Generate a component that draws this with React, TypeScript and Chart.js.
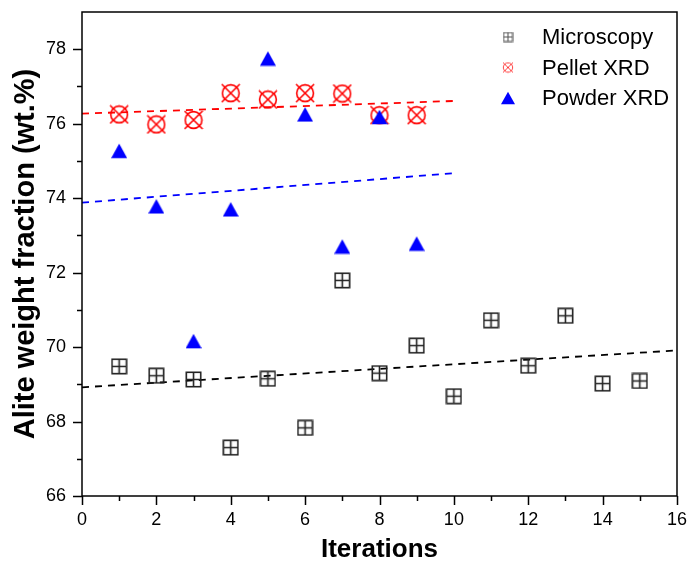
import React, { useEffect, useRef } from "react";
import { Chart, registerables } from "chart.js";
Chart.register(...registerables);

const microscopyX = [1, 2, 3, 4, 5, 6, 7, 8, 9, 10, 11, 12, 13, 14, 15];
const microscopy = [69.48, 69.23, 69.13, 67.3, 69.15, 67.83, 71.79, 69.3, 70.04, 68.68, 70.72, 69.5, 70.84, 69.02, 69.09];
const pelletX = [1, 2, 3, 4, 5, 6, 7, 8, 9];
const pelletXRD = [76.25, 75.98, 76.1, 76.82, 76.65, 76.82, 76.81, 76.23, 76.23];
const powderX = [1, 2, 3, 4, 5, 6, 7, 8, 9];
const powderXRD = [75.27, 73.78, 70.16, 73.7, 77.75, 76.25, 72.7, 76.18, 72.78];
const microscopyFitX = [0, 16];
const microscopyFit = [68.92, 69.91];
const pelletFitX = [0, 10];
const pelletFit = [76.27, 76.61];
const powderFitX = [0, 10];
const powderFit = [73.88, 74.67];
const xTickValues = [0, 2, 4, 6, 8, 10, 12, 14, 16];
const yTickValues = [66, 68, 70, 72, 74, 76, 78];
const legendLabels = ["Microscopy", "Pellet XRD", "Powder XRD"];

const FONT = "'Liberation Sans', Arial, sans-serif";

function makeCanvas(size: number, draw: (c: CanvasRenderingContext2D, s: number) => void) {
  const cv = document.createElement("canvas");
  cv.width = size;
  cv.height = size;
  const c = cv.getContext("2d")!;
  draw(c, size);
  return cv;
}

function squarePlus(size: number, lw: number, color: string) {
  return makeCanvas(size, (c, s) => {
    c.strokeStyle = color;
    c.lineWidth = lw;
    const m = lw / 2 + 0.5;
    c.strokeRect(m, m, s - 2 * m, s - 2 * m);
    c.beginPath();
    c.moveTo(s / 2, m);
    c.lineTo(s / 2, s - m);
    c.moveTo(m, s / 2);
    c.lineTo(s - m, s / 2);
    c.stroke();
  });
}

function circleX(size: number, lw: number, color: string) {
  return makeCanvas(size, (c, s) => {
    c.strokeStyle = color;
    c.lineWidth = lw;
    const r = s / 2 - lw / 2 - 0.8;
    c.beginPath();
    c.arc(s / 2, s / 2, r, 0, Math.PI * 2);
    c.stroke();
    const m = 1;
    c.beginPath();
    c.moveTo(m, m);
    c.lineTo(s - m, s - m);
    c.moveTo(s - m, m);
    c.lineTo(m, s - m);
    c.stroke();
  });
}

function triangle(size: number) {
  return makeCanvas(size, (c, s) => {
    c.fillStyle = "#0000ff";
    const h = s * 0.9;
    const top = (s - h) / 2;
    c.beginPath();
    c.moveTo(s / 2, top);
    c.lineTo(s, top + h);
    c.lineTo(0, top + h);
    c.closePath();
    c.fill();
  });
}

export default function App() {
  const ref = useRef<HTMLCanvasElement>(null);
  useEffect(() => {
    const canvas = ref.current!;
    const sq = squarePlus(17, 1.6, "#222");
    const cx = circleX(20, 1.6, "#ff0000");
    const tri = triangle(16);
    const sqL = squarePlus(11, 1.1, "#555");
    const cxL = circleX(12, 1.0, "#ff4040");
    const triL = triangle(14);

    const framePlugin = {
      id: "frame",
      afterDraw(chart: any) {
        const { ctx, chartArea: a, scales } = chart;
        ctx.save();
        ctx.strokeStyle = "#000";
        ctx.lineWidth = 1.5;
        ctx.strokeRect(a.left, a.top, a.right - a.left, a.bottom - a.top);
        ctx.beginPath();
        for (let v = 0; v <= 16; v++) {
          const px = Math.round(scales.x.getPixelForValue(v)) + 0.5;
          const len = v % 2 === 0 ? 9 : 5;
          ctx.moveTo(px, a.bottom);
          ctx.lineTo(px, a.bottom + len);
        }
        for (let v = 66; v <= 78; v++) {
          const py = Math.round(scales.y.getPixelForValue(v)) + 0.5;
          const len = v % 2 === 0 ? 9 : 5;
          ctx.moveTo(a.left, py);
          ctx.lineTo(a.left - len, py);
        }
        ctx.stroke();
        // legend
        const markers = [sqL, cxL, triL];
        ctx.font = `22px ${FONT}`;
        ctx.fillStyle = "#000";
        ctx.textBaseline = "middle";
        ctx.textAlign = "left";
        legendLabels.forEach((lab, i) => {
          const y = 37 + i * 30.5;
          const m = markers[i];
          ctx.drawImage(m, 508 - m.width / 2, y - m.height / 2);
          ctx.fillText(lab, 542, y + 1);
        });
        ctx.restore();
      },
    };

    const chart = new Chart(canvas, {
      type: "scatter",
      data: {
        datasets: [
          {
            label: "Powder XRD",
            data: powderX.map((x, i) => ({ x, y: powderXRD[i] })),
            pointStyle: tri as any,
            order: 0,
          },
          {
            label: "Pellet XRD",
            data: pelletX.map((x, i) => ({ x, y: pelletXRD[i] })),
            pointStyle: cx as any,
            order: 1,
          },
          {
            label: "Microscopy",
            data: microscopyX.map((x, i) => ({ x, y: microscopy[i] })),
            pointStyle: sq as any,
            order: 2,
          },
          {
            label: "fit-m",
            data: microscopyFitX.map((x, i) => ({ x, y: microscopyFit[i] })),
            showLine: true,
            borderColor: "#000",
            borderWidth: 1.8,
            borderDash: [7, 6],
            pointRadius: 0,
            order: 3,
          },
          {
            label: "fit-p",
            data: pelletFitX.map((x, i) => ({ x, y: pelletFit[i] })),
            showLine: true,
            borderColor: "#ff0000",
            borderWidth: 1.8,
            borderDash: [7, 6],
            pointRadius: 0,
            order: 3,
          },
          {
            label: "fit-w",
            data: powderFitX.map((x, i) => ({ x, y: powderFit[i] })),
            showLine: true,
            borderColor: "#0000ff",
            borderWidth: 1.8,
            borderDash: [7, 6],
            pointRadius: 0,
            order: 3,
          },
        ],
      },
      options: {
        animation: false,
        responsive: false,
        devicePixelRatio: 1,
        layout: { padding: { top: 12, right: 11, left: 0, bottom: 0 } },
        plugins: { legend: { display: false }, tooltip: { enabled: false } },
        scales: {
          x: {
            type: "linear",
            min: 0,
            max: 16,
            afterBuildTicks: (s: any) => {
              s.ticks = xTickValues.map((v) => ({ value: v }));
            },
            afterFit: (s: any) => {
              s.height = 71;
              s.paddingLeft = 0;
              s.paddingRight = 0;
            },
            grid: { display: false, drawTicks: false },
            border: { display: false },
            ticks: {
              color: "#000",
              font: { family: FONT, size: 18 },
              padding: 13,
              maxRotation: 0,
              callback: (v: any) => String(v),
            },
            title: {
              display: true,
              text: "Iterations",
              color: "#000",
              font: { family: FONT, size: 26, weight: "bold" },
              padding: { top: 0, bottom: 2 },
            },
          },
          y: {
            type: "linear",
            min: 66,
            max: 79,
            afterBuildTicks: (s: any) => {
              s.ticks = yTickValues.map((v) => ({ value: v }));
            },
            afterFit: (s: any) => {
              s.width = 82;
              s.paddingTop = 0;
              s.paddingBottom = 0;
            },
            grid: { display: false, drawTicks: false },
            border: { display: false },
            ticks: {
              color: "#000",
              font: { family: FONT, size: 18 },
              padding: 16,
              callback: (v: any) => String(v),
            },
            title: {
              display: true,
              text: "Alite weight fraction (wt.%)",
              color: "#000",
              font: { family: FONT, size: 29, weight: "bold" },
              padding: { top: 9, bottom: 0 },
            },
          },
        },
      },
      plugins: [framePlugin],
    } as any);
    return () => chart.destroy();
  }, []);
  return (
    <div style={{ position: "fixed", left: 0, top: 0, width: 688, height: 567, background: "#fff" }}>
      <canvas ref={ref} width={688} height={567} style={{ display: "block" }} />
    </div>
  );
}
